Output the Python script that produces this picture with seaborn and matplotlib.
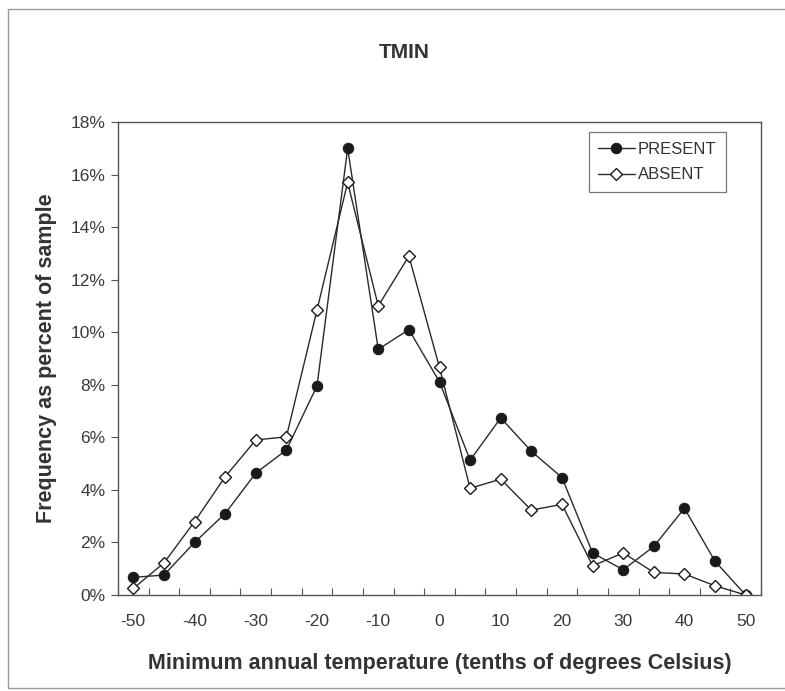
import matplotlib
matplotlib.use("Agg")
import matplotlib.pyplot as plt
import matplotlib.ticker as mticker
from matplotlib.patches import Rectangle
import seaborn as sns
import pandas as pd

temps = [-50, -45, -40, -35, -30, -25, -20, -15, -10, -5, 0, 5, 10, 15, 20, 25, 30, 35, 40, 45, 50]
present = [0.67, 0.76, 2.0, 3.1, 4.64, 5.52, 7.96, 17.0, 9.35, 10.1, 8.11, 5.13, 6.74, 5.47, 4.47, 1.6, 0.96, 1.85, 3.3, 1.28, 0.0]
absent = [0.25, 1.22, 2.79, 4.5, 5.9, 6.02, 10.85, 15.7, 11.0, 12.9, 8.66, 4.06, 4.41, 3.23, 3.45, 1.11, 1.6, 0.86, 0.8, 0.35, 0.0]
series_names = ["PRESENT", "ABSENT"]
y_ticks = [0, 2, 4, 6, 8, 10, 12, 14, 16, 18]
x_labels = [-50, -40, -30, -20, -10, 0, 10, 20, 30, 40, 50]

title = "TMIN"
x_title = "Minimum annual temperature (tenths of degrees Celsius)"
y_title = "Frequency as percent of sample"

sns.set_theme(style="white")
plt.rcParams["font.family"] = ["Liberation Sans", "DejaVu Sans"]
plt.rcParams["axes.unicode_minus"] = False

W, H = 785, 691
fig = plt.figure(figsize=(W / 100, H / 100), dpi=100)
fig.patch.set_facecolor("white")
ax = fig.add_axes([118 / W, (H - 595) / H, (761 - 118) / W, (595 - 122) / H])

df_p = pd.DataFrame({"temp": temps, "freq": present})
df_a = pd.DataFrame({"temp": temps, "freq": absent})

line_col = "#2a2a2a"
sns.lineplot(data=df_p, x="temp", y="freq", ax=ax, color=line_col, linewidth=1.0,
             marker="o", markersize=7.5, markerfacecolor="#1a1a1a", markeredgecolor="#1a1a1a",
             label=series_names[0])
sns.lineplot(data=df_a, x="temp", y="freq", ax=ax, color=line_col, linewidth=1.0,
             marker="D", markersize=6.5, markerfacecolor="white", markeredgecolor="#1a1a1a",
             markeredgewidth=1.0, label=series_names[1])

ax.set_xlim(-52.5, 52.5)
ax.set_ylim(0, 18)
ax.set_yticks(y_ticks)
ax.yaxis.set_major_formatter(mticker.FuncFormatter(lambda v, p: f"{int(round(v))}%"))
ax.set_xticks(x_labels)
ax.set_xticks([t - 2.5 for t in temps] + [52.5], minor=True)
ax.tick_params(axis="x", which="major", length=0, pad=14, labelsize=12.5, labelcolor="#3a3a3a")
ax.tick_params(axis="x", which="minor", length=5, width=0.8, color="#555555", direction="in", bottom=True)
ax.tick_params(axis="y", which="major", length=5, width=0.8, color="#555555", direction="out", left=True,
               labelsize=12.5, labelcolor="#3a3a3a", pad=4)

for s in ax.spines.values():
    s.set_color("#555555")
    s.set_linewidth(1.0)

ax.set_xlabel(x_title, fontsize=15.5, fontweight="bold", color="#333333", labelpad=17)
ax.set_ylabel(y_title, fontsize=15.5, fontweight="bold", color="#333333", labelpad=10)
fig.text(404 / W, (H - 53) / H, title, ha="center", va="center", fontsize=15,
         fontweight="bold", color="#333333")

leg = ax.legend(loc="upper right", bbox_to_anchor=(0.945, 0.978), frameon=True, fancybox=False,
                fontsize=12, borderpad=0.55, handlelength=2.2, handletextpad=0.2, labelspacing=0.65,
                borderaxespad=0)
leg.get_frame().set_edgecolor("#555555")
leg.get_frame().set_linewidth(0.9)
for t in leg.get_texts():
    t.set_color("#333333")

fig.add_artist(Rectangle((8 / W, 3 / H), 1.0, (H - 12) / H, transform=fig.transFigure,
                         fill=False, edgecolor="#9a9a9a", linewidth=1.0))

fig.savefig("out.png", dpi=100, facecolor="white")
